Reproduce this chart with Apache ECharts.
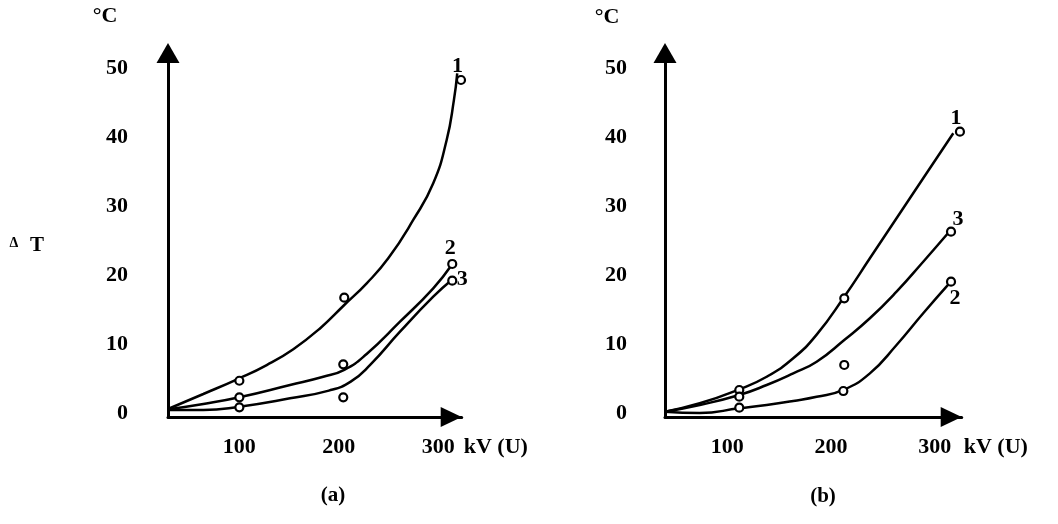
<!DOCTYPE html>
<html>
<head>
<meta charset="utf-8">
<script src="https://cdn.jsdelivr.net/npm/echarts@6/dist/echarts.min.js"></script>
<style>
  html, body { margin: 0; padding: 0; background: #fff; }
  #chart { width: 1058px; height: 524px; }
</style>
</head>
<body>
<div id="chart"></div>
<script>
  // tick labels
  const xTicks = [100, 200, 300]
  const yTicks = [0, 10, 20, 30, 40, 50]

  // (a) measured points, curves 1-3
  const ptsA1 = [[100.1, 4.73], [205.5, 16.75], [322.8, 48.26]]
  const ptsA2 = [[100.1, 2.33], [204.5, 7.11], [314.0, 21.63]]
  const ptsA3 = [[100.1, 0.88], [204.5, 2.33], [314.0, 19.21]]
  // (a) fitted curves
  const fitA1 = [[28.4, 0.64], [63.9, 2.81], [100.1, 5.08], [127.6, 7.0], [154.3, 9.3], [181.1, 12.3], [205.5, 15.69], [227.8, 18.8], [249.7, 22.45], [274.8, 28.0], [294.9, 33.31], [308.4, 39.58], [315.7, 45.38], [319.0, 49.23]]
  const fitA2 = [[28.7, 0.59], [63.9, 1.36], [100.1, 2.33], [151.0, 4.11], [184.4, 5.31], [205.5, 6.3], [228.0, 8.6], [261.5, 13.27], [294.9, 18.11], [313.4, 21.48]]
  const fitA3 = [[28.7, 0.49], [63.9, 0.49], [100.1, 0.97], [151.0, 2.18], [190.0, 3.3], [212.0, 4.6], [232.0, 7.1], [261.5, 11.83], [294.9, 16.89], [313.4, 19.31]]

  // (b) measured points
  const ptsB1 = [[111.5, 3.39], [212.7, 16.66], [324.2, 40.78]]
  const ptsB2 = [[111.5, 0.83], [211.8, 3.24], [315.6, 19.07]]
  const ptsB3 = [[111.5, 2.42], [212.7, 7.01], [315.6, 26.3]]
  // (b) fitted curves
  const fitB1 = [[39.9, 0.25], [73.4, 1.46], [111.5, 3.49], [137.9, 5.31], [163.5, 7.98], [186.1, 11.4], [212.7, 16.89], [237.4, 22.45], [263.1, 28.24], [288.8, 34.03], [317.8, 40.55]]
  const fitB2 = [[39.9, 0.25], [73.4, 0.05], [111.5, 0.74], [137.9, 1.22], [163.5, 1.8], [186.1, 2.4], [211.8, 3.4], [237.4, 5.8], [263.1, 9.9], [288.8, 14.49], [314.6, 18.92]]
  const fitB3 = [[39.9, 0.25], [73.4, 1.22], [111.5, 2.66], [137.9, 4.11], [163.5, 5.8], [186.1, 7.48], [212.7, 10.63], [237.4, 13.77], [263.1, 17.62], [288.8, 21.96], [313.9, 26.3]]

  const FONT = 'Liberation Serif'
  const INK = '#000'

  function xAxisOf (idx, min, max) {
    return {
      type: 'value',
      gridIndex: idx,
      min: min,
      max: max,
      name: 'kV (U)',
      nameLocation: 'end',
      nameGap: 2,
      nameTextStyle: {
        color: INK, fontFamily: FONT, fontWeight: 'bold', fontSize: 22,
        verticalAlign: 'top', padding: [19, 0, 0, 0]
      },
      axisLine: {
        onZero: false,
        symbol: ['none', 'triangle'],
        symbolSize: [20, 21],
        symbolOffset: [0, -10.5],
        lineStyle: { color: '#000', width: 3 }
      },
      axisTick: { show: false },
      splitLine: { show: false },
      axisLabel: {
        customValues: xTicks,
        margin: 19,
        color: INK, fontFamily: FONT, fontWeight: 'bold', fontSize: 22
      }
    }
  }

  function yAxisOf (idx, margin) {
    return {
      type: 'value',
      gridIndex: idx,
      min: -0.52,
      max: 52.17,
      axisLine: {
        onZero: false,
        symbol: ['none', 'triangle'],
        symbolSize: [23, 20],
        lineStyle: { color: '#000', width: 3 }
      },
      axisTick: { show: false },
      splitLine: { show: false },
      axisLabel: {
        customValues: yTicks,
        margin: margin,
        color: INK, fontFamily: FONT, fontWeight: 'bold', fontSize: 22
      }
    }
  }

  function curve (data, idx) {
    return {
      type: 'line',
      xAxisIndex: idx,
      yAxisIndex: idx,
      data: data,
      smooth: 0.5,
      showSymbol: false,
      clip: false,
      lineStyle: { color: '#000', width: 2.5 },
      z: 2
    }
  }

  function points (data, idx, labelText, offset) {
    return {
      type: 'scatter',
      xAxisIndex: idx,
      yAxisIndex: idx,
      clip: false,
      symbol: 'circle',
      symbolSize: 8,
      itemStyle: { color: '#fff', borderColor: '#000', borderWidth: 2.2, opacity: 1 },
      data: data.map((d, i) => {
        if (i !== data.length - 1) return d
        return {
          value: d,
          label: {
            show: true,
            formatter: labelText,
            position: 'inside',
            offset: offset,
            textBorderWidth: 0,
            color: INK, fontFamily: FONT, fontWeight: 'bold', fontSize: 22
          }
        }
      }),
      z: 3
    }
  }

  const chart = echarts.init(document.getElementById('chart'), null, { renderer: 'canvas' })
  const option = {
    animation: false,
    backgroundColor: '#fff',
    grid: [
      { left: 168, top: 53, width: 293.7, height: 364, outerBoundsMode: 'none' },
      { left: 665, top: 53, width: 296.7, height: 364, outerBoundsMode: 'none' }
    ],
    xAxis: [xAxisOf(0, 28.4, 323.5), xAxisOf(1, 39.9, 325.9)],
    yAxis: [yAxisOf(0, 40), yAxisOf(1, 38)],
    graphic: [
      { type: 'text', x: 105, y: 16, style: { text: '°C', font: 'bold 22px "Liberation Serif"', fill: INK, align: 'center', verticalAlign: 'middle' } },
      { type: 'text', x: 607, y: 17, style: { text: '°C', font: 'bold 22px "Liberation Serif"', fill: INK, align: 'center', verticalAlign: 'middle' } },
      { type: 'text', x: 14, y: 243, style: { text: 'Δ', font: 'bold 14px "Liberation Serif"', fill: INK, align: 'center', verticalAlign: 'middle' } },
      { type: 'text', x: 37, y: 246, style: { text: 'T', font: 'bold 21px "Liberation Serif"', fill: INK, align: 'center', verticalAlign: 'middle' } },
      { type: 'text', x: 333, y: 496, style: { text: '(a)', font: 'bold 21px "Liberation Serif"', fill: INK, align: 'center', verticalAlign: 'middle' } },
      { type: 'text', x: 823, y: 497, style: { text: '(b)', font: 'bold 21px "Liberation Serif"', fill: INK, align: 'center', verticalAlign: 'middle' } }
    ],
    series: [
      curve(fitA1, 0), curve(fitA2, 0), curve(fitA3, 0),
      points(ptsA1, 0, '1', [-3.5, -14]),
      points(ptsA2, 0, '2', [-2, -16]),
      points(ptsA3, 0, '3', [10, -1]),
      curve(fitB1, 1), curve(fitB2, 1), curve(fitB3, 1),
      points(ptsB1, 1, '1', [-4, -13]),
      points(ptsB2, 1, '2', [4, 17]),
      points(ptsB3, 1, '3', [7, -12])
    ]
  }
  chart.setOption(option)
</script>
</body>
</html>
